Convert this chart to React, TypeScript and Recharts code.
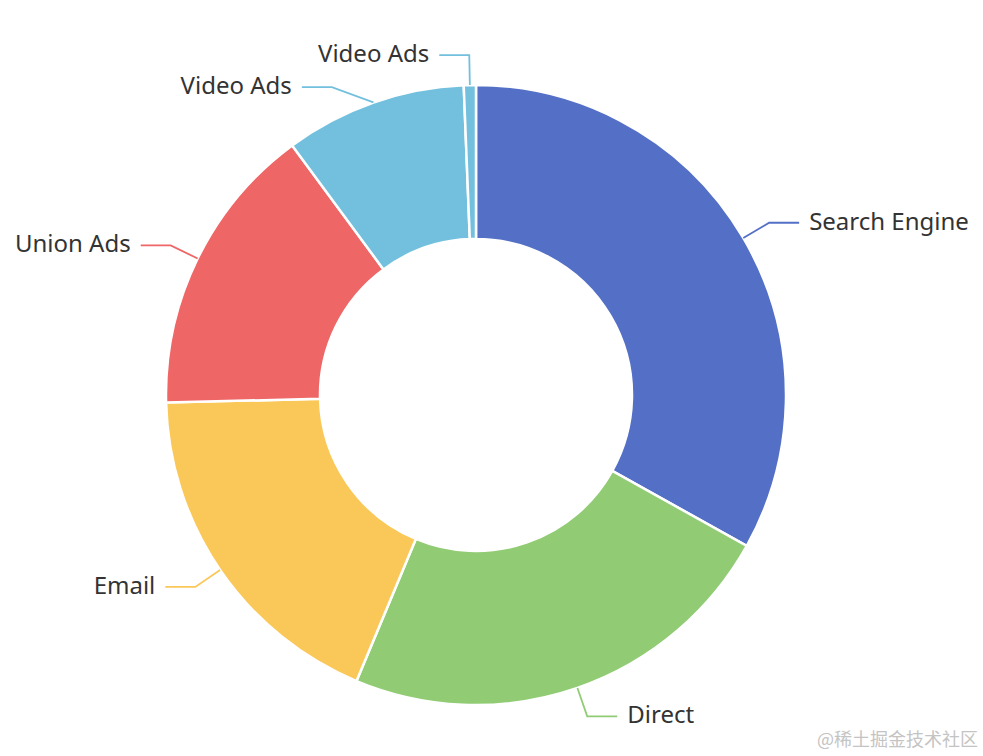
import { PieChart, Pie, Cell } from 'recharts';

const names = ['Search Engine', 'Direct', 'Email', 'Union Ads', 'Video Ads', 'Video Ads'];
const values = [1048, 735, 580, 484, 300, 20];
const colors = ['#5470c6', '#91cc75', '#fac858', '#ee6666', '#73c0de', '#73c0de'];

const data = names.map((name, i) => ({ name, value: values[i] }));

const LINE1 = 30;
const LINE2 = 30;
const GAP = 10;
const LINE_H = 32;
const RAD = Math.PI / 180;

// label placement like echarts: bend point on a circle, push overlapping labels down
function labelLayout(cx: number, cy: number, r: number) {
  const total = values.reduce((a, b) => a + b, 0);
  const r2 = r + LINE1;
  let cum = 0;
  const items = values.map((v, i) => {
    const mid = 90 - (360 * (cum + v / 2)) / total;
    cum += v;
    const cos = Math.cos(mid * RAD);
    const sin = -Math.sin(mid * RAD);
    return {
      i,
      x1: cx + r * cos,
      y1: cy + r * sin,
      x2: cx + r2 * cos,
      y2: cy + r2 * sin,
      left: cos < 0,
    };
  });
  [true, false].forEach((side) => {
    const list = items.filter((it) => it.left === side).sort((a, b) => a.y2 - b.y2);
    for (let k = 1; k < list.length; k++) {
      const prev = list[k - 1];
      const cur = list[k];
      if (cur.y2 - prev.y2 < LINE_H) {
        cur.y2 = prev.y2 + LINE_H;
        const dy = cur.y2 - cy;
        if (Math.abs(dy) < r2) {
          const dx = Math.sqrt(r2 * r2 - dy * dy);
          cur.x2 = cx + (side ? -dx : dx);
        }
      }
    }
  });
  return items;
}

const renderLabel = (props: any) => {
  const { cx, cy, outerRadius, index } = props;
  const it = labelLayout(cx, cy, outerRadius)[index];
  const dir = it.left ? -1 : 1;
  const x3 = it.x2 + dir * LINE2;
  return (
    <g>
      <polyline
        points={`${it.x1},${it.y1} ${it.x2},${it.y2} ${x3},${it.y2}`}
        fill="none"
        stroke={colors[index]}
        strokeWidth={1.8}
      />
      <text
        x={x3 + dir * GAP}
        y={it.y2 - 2.5}
        textAnchor={it.left ? 'end' : 'start'}
        dominantBaseline="central"
        fill="#333"
        fontSize={24}
        fontFamily="'Noto Sans', sans-serif"
      >
        {names[index]}
      </text>
    </g>
  );
};

export default function App() {
  return (
    <div style={{ position: 'fixed', left: 0, top: 0, width: 983, height: 756, background: '#fff' }}>
      <PieChart width={983} height={756} margin={{ top: 0, right: 0, bottom: 0, left: 0 }}>
        <Pie
          data={data}
          dataKey="value"
          nameKey="name"
          cx={476}
          cy={395}
          innerRadius={156}
          outerRadius={310}
          startAngle={90}
          endAngle={-270}
          stroke="#fff"
          strokeWidth={2.5}
          label={renderLabel}
          labelLine={false}
          isAnimationActive={false}
        >
          {data.map((d, i) => (
            <Cell key={i} fill={colors[i]} />
          ))}
        </Pie>
      </PieChart>
      <div
        style={{
          position: 'absolute',
          left: 817,
          top: 726,
          fontSize: 18,
          color: '#c4c4c4',
          fontFamily: "'Noto Sans CJK SC', sans-serif",
          lineHeight: '24px',
          whiteSpace: 'nowrap',
        }}
      >
        @稀土掘金技术社区
      </div>
    </div>
  );
}
